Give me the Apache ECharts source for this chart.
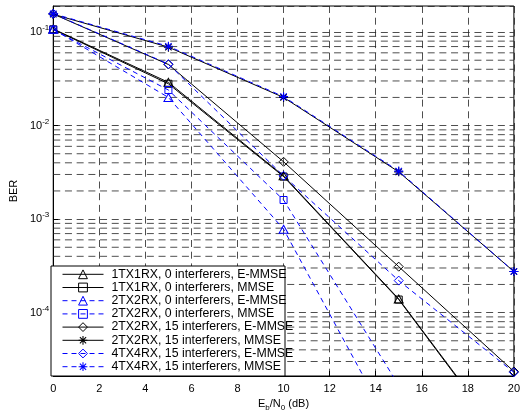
<!DOCTYPE html>
<html>
<head>
<meta charset="utf-8">
<script src="https://cdn.jsdelivr.net/npm/echarts@6/dist/echarts.min.js"></script>
<style>
  html, body { margin: 0; padding: 0; background: #fff; }
  #chart { width: 523px; height: 418px; }
</style>
</head>
<body>
<div id="chart"></div>
<script>
// Eb/N0 sample points (dB)
const snr = [0, 5, 10, 15, 20];

// Bit error rates per configuration
const ber1x1EMMSE    = [0.108, 0.029, 0.0029, 1.4e-4, 3.2e-6];
const ber1x1MMSE     = [0.107, 0.028, 0.00285, 1.38e-4, 3.1e-6];
const ber2x2EMMSE    = [0.107, 0.020, 7.8e-4, 4.2e-6, null];
const ber2x2MMSE     = [0.106, 0.024, 0.0016, 1.67e-5, null];
const ber2x2i15EMMSE = [0.156, 0.045, 0.0041, 3.1e-4, 2.35e-5];
const ber2x2i15MMSE  = [0.155, 0.069, 0.020, 0.0032, 2.75e-4];
const ber4x4i15EMMSE = [0.157, 0.0455, 0.0029, 2.2e-4, 2.3e-5];
const ber4x4i15MMSE  = [0.157, 0.0705, 0.0204, 0.00326, 2.75e-4];

const seriesNames = [
  '1TX1RX, 0 interferers, E-MMSE',
  '1TX1RX, 0 interferers, MMSE',
  '2TX2RX, 0 interferers, E-MMSE',
  '2TX2RX, 0 interferers, MMSE',
  '2TX2RX, 15 interferers, E-MMSE',
  '2TX2RX, 15 interferers, MMSE',
  '4TX4RX, 15 interferers, E-MMSE',
  '4TX4RX, 15 interferers, MMSE'
];

// Axis extents and tick layout
const xMin = 0, xMax = 20, xStep = 2;
const berMin = 2.1e-5, berMax = 0.19;
const minorMantissas = [2, 3, 4, 5, 6, 7, 8, 9];
const decades = [-5, -4, -3, -2, -1];

const FONT = 'Liberation Sans, Arial, Helvetica, sans-serif';

// asterisk marker built from four thin bars
const ASTERISK = 'path://M-0.6,-5L0.6,-5L0.6,5L-0.6,5Z' +
  'M5,-0.6L5,0.6L-5,0.6L-5,-0.6Z' +
  'M-3.96,-3.11L-3.11,-3.96L3.96,3.11L3.11,3.96Z' +
  'M3.11,-3.96L3.96,-3.11L-3.11,3.96L-3.96,3.11Z';

const BLACK = '#000000';
const BLUE = '#0000ff';
const SOLID = 'solid';
const DASH = [5, 4];
const CLEAR = 'rgba(0,0,0,0)';

// per-series look: colour, line dash, marker, marker size
const looks = [
  { color: BLACK, dash: SOLID, symbol: 'triangle', size: [9, 8] },
  { color: BLACK, dash: SOLID, symbol: 'rect',     size: 7 },
  { color: BLUE,  dash: DASH,  symbol: 'triangle', size: [9, 8] },
  { color: BLUE,  dash: DASH,  symbol: 'rect',     size: 7 },
  { color: BLACK, dash: SOLID, symbol: 'diamond',  size: 9 },
  { color: BLACK, dash: SOLID, symbol: ASTERISK,   size: 9 },
  { color: BLUE,  dash: DASH,  symbol: 'diamond',  size: 9 },
  { color: BLUE,  dash: DASH,  symbol: ASTERISK,   size: 9 }
];
const berSets = [ber1x1EMMSE, ber1x1MMSE, ber2x2EMMSE, ber2x2MMSE,
                 ber2x2i15EMMSE, ber2x2i15MMSE, ber4x4i15EMMSE, ber4x4i15MMSE];

function markerStyle(look) {
  return look.symbol === ASTERISK
    ? { color: look.color, borderWidth: 0 }
    : { color: CLEAR, borderColor: look.color, borderWidth: 1 };
}

function curve(i) {
  const look = looks[i];
  return {
    name: seriesNames[i],
    type: 'line',
    data: snr.map((x, k) => [x, berSets[i][k]]),
    symbol: look.symbol,
    symbolSize: look.size,
    showAllSymbol: true,
    connectNulls: false,
    lineStyle: { color: look.color, width: 1, type: look.dash },
    itemStyle: markerStyle(look),
    emphasis: { disabled: true },
    animation: false,
    z: 3
  };
}

const gridDash = [7, 4.7];
const gridLine = { color: '#222', width: 0.8, type: gridDash };

// dashed minor grid lines at 2..9 x 10^k inside the visible range
const minorValues = [];
decades.forEach(e => {
  minorMantissas.forEach(m => {
    const v = m * Math.pow(10, e);
    if (v > berMin && v < berMax) minorValues.push(v);
  });
});
const minorGridSeries = minorValues.map(v => ({
  type: 'line',
  data: [[xMin, v], [xMax, v]],
  symbol: 'none',
  silent: true,
  lineStyle: gridLine,
  emphasis: { disabled: true },
  animation: false,
  z: 1
}));

const legendItems = seriesNames.map((name, i) => ({
  name: name,
  itemStyle: markerStyle(looks[i]),
  lineStyle: { color: looks[i].color, width: 1, type: looks[i].dash }
}));

const chart = echarts.init(document.getElementById('chart'), null, { renderer: 'canvas' });

chart.setOption({
  backgroundColor: '#ffffff',
  animation: false,
  textStyle: { fontFamily: FONT },
  grid: {
    left: 51, right: 5, top: 6, bottom: 42,
    show: true, borderColor: BLACK, borderWidth: 1, backgroundColor: '#ffffff'
  },
  xAxis: {
    type: 'value',
    min: xMin, max: xMax, interval: xStep,
    name: 'E{s|b}/N{s|0} (dB)',
    nameLocation: 'middle',
    nameGap: 19,
    nameTextStyle: {
      color: BLACK, fontSize: 11, fontFamily: FONT,
      rich: { s: { fontSize: 8, fontFamily: FONT, color: BLACK, padding: [7, 0, 0, 0] } }
    },
    axisLine: { show: true, lineStyle: { color: BLACK, width: 1 } },
    axisTick: { show: true, inside: true, length: 5, lineStyle: { color: BLACK } },
    axisLabel: { color: BLACK, fontSize: 11, margin: 7, fontFamily: FONT },
    splitLine: { show: true, lineStyle: gridLine }
  },
  yAxis: {
    type: 'log',
    logBase: 10,
    min: berMin, max: berMax,
    name: 'BER',
    nameLocation: 'middle',
    nameGap: 33,
    nameTextStyle: { color: BLACK, fontSize: 11, fontFamily: FONT },
    axisLine: { show: true, lineStyle: { color: BLACK, width: 1 } },
    axisTick: { show: true, inside: true, length: 5, lineStyle: { color: BLACK } },
    axisLabel: {
      color: BLACK, fontSize: 11, margin: 4, fontFamily: FONT,
      showMinLabel: false, showMaxLabel: false,
      formatter: function (v) {
        const e = Math.round(Math.log10(v));
        if (Math.abs(Math.log10(v) - e) > 1e-6) return '';
        return '10{e|' + e + '}';
      },
      rich: { e: { fontSize: 8, fontFamily: FONT, color: BLACK, padding: [0, 0, 8, 0] } }
    },
    splitLine: { show: true, lineStyle: gridLine }
  },
  legend: {
    show: true,
    data: legendItems,
    orient: 'vertical',
    left: 62, top: 267.8,
    padding: 0,
    itemWidth: 41, itemHeight: 11, itemGap: 0.2,
    selectedMode: false,
    z: 11,
    textStyle: { color: BLACK, fontSize: 12.3, lineHeight: 13, fontFamily: FONT, padding: [0, 0, 0, 3] }
  },
  graphic: [{
    type: 'rect',
    z: 10,
    silent: true,
    shape: { x: 51, y: 266, width: 234, height: 110 },
    style: { fill: '#ffffff', stroke: BLACK, lineWidth: 1 }
  }],
  series: minorGridSeries.concat(seriesNames.map((_, i) => curve(i)))
});
</script>
</body>
</html>
